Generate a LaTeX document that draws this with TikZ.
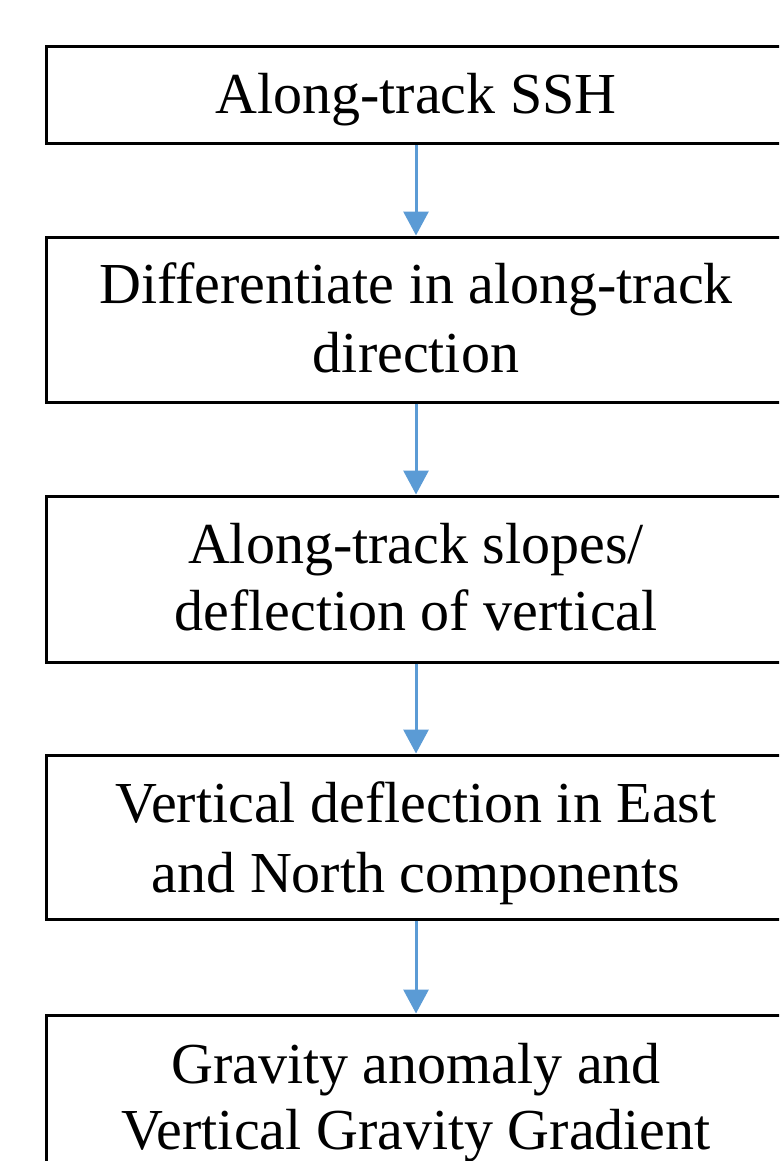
\documentclass[tikz,border=0pt]{standalone}
\usepackage{fontspec}
\setmainfont{Liberation Serif}
\usetikzlibrary{arrows.meta}
\definecolor{arrowblue}{HTML}{5B9BD5}
\begin{document}
\begin{tikzpicture}[x=1pt,y=-1pt,
  stepbox/.style={draw=black, line width=3pt, rectangle, inner sep=0pt, minimum width=742pt},
  label/.style={anchor=base, inner sep=0pt, font=\fontsize{58}{68}\selectfont},
  flow/.style={draw=arrowblue, line width=3pt, -{Triangle[width=25pt,length=24pt]}}]
\useasboundingbox (0,0) rectangle (779,1161);
\clip (0,0) rectangle (779,1161);
\fill[white] (0,0) rectangle (779,1161);
% boxes
\node[stepbox, minimum height=97pt]  (b1) at (417,95.5) {};
\node[stepbox, minimum height=165pt] (b2) at (417,319.5) {};
\node[stepbox, minimum height=166pt] (b3) at (417,579) {};
\node[stepbox, minimum height=164pt] (b4) at (417,837) {};
\node[stepbox, minimum height=165pt] (b5) at (417,1097.5) {};
% texts
\node[label] (t1)  at (416,114)  {Along-track SSH};
\node[label] (t2a) at (416,303)  {Differentiate in along-track};
\node[label] (t2b) at (416,372)  {direction};
\node[label] (t3a) at (416,563)  {Along-track slopes/};
\node[label] (t3b) at (416,630)  {deflection of vertical};
\node[label] (t4a) at (416,822)  {Vertical deflection in East};
\node[label] (t4b) at (416,892)  {and North components};
\node[label] (t5a) at (416,1083) {Gravity anomaly and};
\node[label] (t5b) at (416,1149) {Vertical Gravity Gradient};
% arrows
\draw[flow] ([xshift=-1pt]b1.south) -- ([xshift=-1pt]b2.north);
\draw[flow] ([xshift=-1pt]b2.south) -- ([xshift=-1pt]b3.north);
\draw[flow] ([xshift=-1pt]b3.south) -- ([xshift=-1pt]b4.north);
\draw[flow] ([xshift=-1pt]b4.south) -- ([xshift=-1pt]b5.north);
\end{tikzpicture}
\end{document}
